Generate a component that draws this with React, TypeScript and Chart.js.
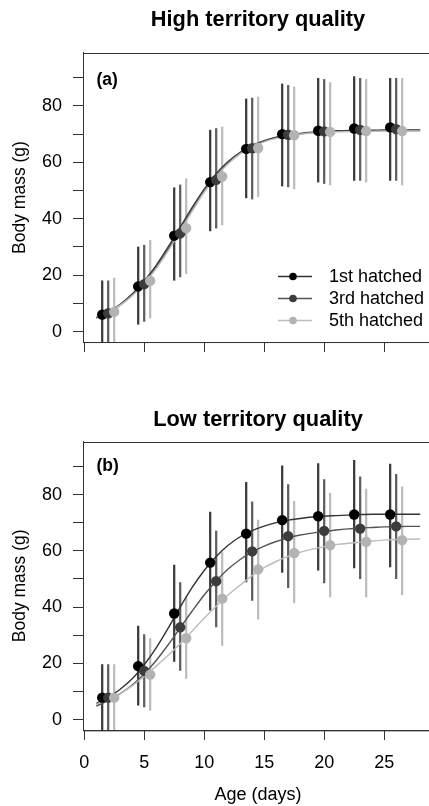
import React, { useEffect, useRef } from "react";
import { Chart, registerables } from "chart.js";

Chart.register(...registerables);

// ---------- data ----------
const SERIES_NAMES = ["1st hatched", "3rd hatched", "5th hatched"];

const AGE_1ST = [1.5, 4.5, 7.5, 10.5, 13.5, 16.5, 19.5, 22.5, 25.5];
const AGE_3RD = [2, 5, 8, 11, 14, 17, 20, 23, 26];
const AGE_5TH = [2.5, 5.5, 8.5, 11.5, 14.5, 17.5, 20.5, 23.5, 26.5];

const FIT_DAYS = [1, 2, 3, 4, 5, 6, 7, 8, 9, 10, 11, 12, 13, 14, 15, 16, 17, 18, 19, 20, 21, 22, 23, 24, 25, 26, 27, 28];

// High territory quality
const HIGH_MEAN_1ST = [6, 16, 34, 53, 64.8, 70, 71.2, 72, 72.4];
const HIGH_LO_1ST = [-6, 2.6, 18.2, 35.7, 47.4, 51.6, 53, 53.6, 53.6];
const HIGH_HI_1ST = [18, 30, 51, 71.4, 82.5, 87.8, 89.8, 90.4, 89.8];
const HIGH_MEAN_3RD = [6.5, 16.8, 34.8, 53.8, 65, 69.8, 71, 71.5, 71.8];
const HIGH_LO_3RD = [-5, 3.6, 19.4, 36.7, 47, 51.3, 52.5, 53.6, 53.6];
const HIGH_HI_3RD = [18, 30.6, 52, 72, 82.8, 87.3, 89.4, 89.8, 89.8];
const HIGH_MEAN_5TH = [7, 18, 36.7, 55, 65.1, 69.6, 70.8, 71.1, 71.1];
const HIGH_LO_5TH = [-5, 4.8, 20.5, 37.8, 47.8, 50.6, 52, 53, 52];
const HIGH_HI_5TH = [19, 32.4, 54.2, 72.6, 83.2, 86.8, 88.3, 89.4, 89.8];
const HIGH_FIT_1ST = [5, 7, 9.7, 13.3, 18, 23.5, 30, 37, 44, 50.5, 56, 60.3, 63.6, 66, 67.7, 68.9, 69.7, 70.3, 70.7, 71, 71.2, 71.3, 71.4, 71.4, 71.5, 71.5, 71.5, 71.5];
const HIGH_FIT_3RD = [4.8, 6.8, 9.4, 12.9, 17.4, 22.9, 29.3, 36.3, 43.3, 49.9, 55.5, 59.9, 63.3, 65.8, 67.5, 68.7, 69.5, 70.1, 70.5, 70.8, 71, 71.1, 71.2, 71.2, 71.3, 71.3, 71.3, 71.3];
const HIGH_FIT_5TH = [5.2, 7, 9.4, 12.7, 17, 22.3, 28.6, 35.6, 42.7, 49.4, 55, 59.5, 63, 65.5, 67.3, 68.5, 69.4, 70, 70.4, 70.6, 70.8, 70.9, 71, 71, 71.1, 71.1, 71.1, 71.1];

// Low territory quality
const LOW_MEAN_1ST = [7.8, 19, 37.7, 55.8, 66.1, 70.9, 72.3, 72.9, 72.9];
const LOW_LO_1ST = [-4.5, 5.1, 20.7, 38.9, 48.9, 52.3, 53.1, 53.9, 54.3];
const LOW_HI_1ST = [19.6, 33.2, 54.9, 73.8, 84.3, 90.2, 91, 92.2, 90.8];
const LOW_MEAN_3RD = [7.8, 17.3, 32.8, 49.2, 59.8, 65.2, 67.1, 67.9, 68.7];
const LOW_LO_3RD = [-4, 4.5, 17.5, 32.9, 42.4, 46.9, 48.6, 50.1, 50.1];
const LOW_HI_3RD = [19.6, 30.2, 48.7, 67, 77.4, 83.5, 85.3, 86.3, 87.2];
const LOW_MEAN_5TH = [7.8, 16, 28.9, 43, 53.4, 59.2, 62, 63.2, 63.8];
const LOW_LO_5TH = [-4, 3.3, 14.6, 26.4, 35.7, 41.5, 43.6, 43.6, 44.4];
const LOW_HI_5TH = [19.6, 28.8, 43.6, 59.6, 70.9, 77.6, 80.4, 81.9, 82.7];
const LOW_FIT_1ST = [5.7, 8, 10.8, 14.5, 19.5, 25.5, 32.5, 40, 47, 53, 58, 62, 65, 67.2, 68.8, 70, 70.9, 71.5, 72, 72.3, 72.5, 72.7, 72.9, 73, 73, 73, 73, 73];
const LOW_FIT_3RD = [4.8, 6.8, 9.2, 12.3, 16.2, 21, 26.6, 32.6, 38.6, 44.3, 49.3, 53.5, 56.9, 59.6, 61.7, 63.3, 64.6, 65.6, 66.3, 66.9, 67.4, 67.8, 68.1, 68.3, 68.5, 68.6, 68.7, 68.7];
const LOW_FIT_5TH = [5.5, 7.2, 9.3, 12, 15.3, 19, 22.9, 27, 31.5, 36, 40.3, 44.3, 47.8, 51.2, 54, 56.2, 58, 59.5, 60.6, 61.5, 62.2, 62.7, 63.1, 63.5, 63.8, 64, 64.1, 64.2];

const X_TICKS = [0, 5, 10, 15, 20, 25];
const Y_TICKS = [0, 10, 20, 30, 40, 50, 60, 70, 80, 90];
const Y_LABELED = [0, 20, 40, 60, 80];

// ---------- styles ----------
const FONT = "'Liberation Sans', Arial, Helvetica, sans-serif";
const DOT_COLORS = ["#000000", "#3c3c3c", "#b3b3b3"];
const BAR_COLORS = ["#3a3a3a", "#5e5e5e", "#bdbdbd"];
const CURVE_COLORS = ["#333333", "#555555", "#bcbcbc"];
const AXIS_COLOR = "#333333";

const X_MIN = -0.1;
const X_MAX = 29.07;
const Y_MIN = -3.7;
const Y_MAX = 98.8;

type Series = { ages: number[]; mean: number[]; lo: number[]; hi: number[]; fit: number[] };

const HIGH_SERIES: Series[] = [
  { ages: AGE_1ST, mean: HIGH_MEAN_1ST, lo: HIGH_LO_1ST, hi: HIGH_HI_1ST, fit: HIGH_FIT_1ST },
  { ages: AGE_3RD, mean: HIGH_MEAN_3RD, lo: HIGH_LO_3RD, hi: HIGH_HI_3RD, fit: HIGH_FIT_3RD },
  { ages: AGE_5TH, mean: HIGH_MEAN_5TH, lo: HIGH_LO_5TH, hi: HIGH_HI_5TH, fit: HIGH_FIT_5TH },
];
const LOW_SERIES: Series[] = [
  { ages: AGE_1ST, mean: LOW_MEAN_1ST, lo: LOW_LO_1ST, hi: LOW_HI_1ST, fit: LOW_FIT_1ST },
  { ages: AGE_3RD, mean: LOW_MEAN_3RD, lo: LOW_LO_3RD, hi: LOW_HI_3RD, fit: LOW_FIT_3RD },
  { ages: AGE_5TH, mean: LOW_MEAN_5TH, lo: LOW_LO_5TH, hi: LOW_HI_5TH, fit: LOW_FIT_5TH },
];

const panelDecor = {
  id: "panelDecor",
  afterDatasetsDraw(chart: any, _args: any, opts: any) {
    const { ctx, chartArea: a } = chart;
    ctx.save();
    // box
    ctx.strokeStyle = AXIS_COLOR;
    ctx.lineWidth = 1;
    ctx.strokeRect(Math.round(a.left) + 0.5, Math.round(a.top) + 0.5, a.right - a.left, a.bottom - a.top);
    // panel tag
    ctx.fillStyle = "#000";
    ctx.textBaseline = "middle";
    ctx.textAlign = "left";
    ctx.font = `bold 17.5px ${FONT}`;
    ctx.fillText(opts.tag, a.left + 13.5, a.top + opts.tagDy);
    // legend
    if (opts.legend) {
      const rows = [-65.5, -43.5, -21.5];
      SERIES_NAMES.forEach((name, k) => {
        const y = a.bottom + rows[k];
        ctx.strokeStyle = CURVE_COLORS[k];
        ctx.lineWidth = 1.5;
        ctx.beginPath();
        ctx.moveTo(a.left + 195, y);
        ctx.lineTo(a.left + 229, y);
        ctx.stroke();
        ctx.fillStyle = DOT_COLORS[k];
        ctx.beginPath();
        ctx.arc(a.left + 210, y, 3.8, 0, Math.PI * 2);
        ctx.fill();
        ctx.fillStyle = "#000";
        ctx.font = `18px ${FONT}`;
        ctx.fillText(name, a.left + 246, y + 0.5);
      });
    }
    ctx.restore();
  },
};

type PanelProps = {
  title: string;
  tag: string;
  series: Series[];
  bottom: boolean;
  width: number;
  height: number;
  titlePad: { top: number; bottom: number };
  xAxisHeight: number;
  tagDy: number;
  legend: boolean;
};

function Panel(p: PanelProps) {
  const ref = useRef<HTMLCanvasElement | null>(null);
  useEffect(() => {
    if (!ref.current) return;
    const datasets: any[] = [];
    p.series.forEach((s, k) => {
      datasets.push({
        type: "bar",
        data: s.ages.map((x, i) => ({ x, y: [s.lo[i], s.hi[i]] })),
        backgroundColor: BAR_COLORS[k],
        borderWidth: 0,
        barThickness: 1.6,
        grouped: false,
        order: 30 - k,
      });
    });
    p.series.forEach((s, k) => {
      datasets.push({
        type: "line",
        data: FIT_DAYS.map((x, i) => ({ x, y: s.fit[i] })),
        borderColor: CURVE_COLORS[k],
        borderWidth: 1.4,
        pointRadius: 0,
        fill: false,
        cubicInterpolationMode: "monotone",
        order: 20 - k,
      });
    });
    p.series.forEach((s, k) => {
      datasets.push({
        type: "line",
        data: s.ages.map((x, i) => ({ x, y: s.mean[i] })),
        showLine: false,
        pointRadius: 5.2,
        pointBackgroundColor: DOT_COLORS[k],
        pointBorderColor: DOT_COLORS[k],
        pointBorderWidth: 0,
        order: 10 - k,
      });
    });

    const chart = new Chart(ref.current, {
      type: "line",
      data: { datasets },
      plugins: [panelDecor],
      options: {
        animation: false,
        responsive: false,
        devicePixelRatio: 1,
        events: [],
        layout: { padding: { left: 0, right: 7, top: 0, bottom: 0 } },
        plugins: {
          legend: { display: false },
          tooltip: { enabled: false },
          title: {
            display: true,
            text: p.title,
            fullSize: false,
            color: "#000",
            font: { family: FONT, size: 21.8, weight: "bold", lineHeight: 1.2 },
            padding: p.titlePad,
          },
          panelDecor: { tag: p.tag, tagDy: p.tagDy, legend: p.legend },
        } as any,
        scales: {
          x: {
            type: "linear",
            min: X_MIN,
            max: X_MAX,
            offset: false,
            afterBuildTicks: (scale: any) => {
              scale.ticks = X_TICKS.map((v) => ({ value: v }));
            },
            afterFit: (scale: any) => {
              scale.height = p.xAxisHeight;
            },
            grid: { drawOnChartArea: false, drawTicks: true, tickLength: 10, color: AXIS_COLOR, offset: false },
            border: { display: true, color: AXIS_COLOR, width: 1 },
            ticks: {
              color: "#000",
              padding: 12,
              maxRotation: 0,
              autoSkip: false,
              font: { family: FONT, size: 18 },
              callback: (v: any) => (p.bottom ? String(v) : ""),
            },
            title: {
              display: p.bottom,
              text: "Age (days)",
              color: "#000",
              font: { family: FONT, size: 18 },
              padding: { top: 0, bottom: 0 },
            },
          },
          y: {
            type: "linear",
            min: Y_MIN,
            max: Y_MAX,
            afterBuildTicks: (scale: any) => {
              scale.ticks = Y_TICKS.map((v) => ({ value: v }));
            },
            afterFit: (scale: any) => {
              scale.width = 83;
            },
            grid: { drawOnChartArea: false, drawTicks: true, tickLength: 10, color: AXIS_COLOR },
            border: { display: true, color: AXIS_COLOR, width: 1 },
            ticks: {
              color: "#000",
              padding: 11,
              autoSkip: false,
              font: { family: FONT, size: 18 },
              callback: (v: any) => (Y_LABELED.includes(v) ? String(v) : ""),
            },
            title: {
              display: true,
              text: "Body mass (g)",
              color: "#000",
              font: { family: FONT, size: 17.5 },
              padding: { top: 10, bottom: 0 },
            },
          },
        },
      } as any,
    });
    return () => chart.destroy();
  }, []);
  return (
    <canvas
      ref={ref}
      width={p.width}
      height={p.height}
      style={{ display: "block", width: p.width, height: p.height }}
    />
  );
}

export default function App() {
  return (
    <div
      style={{
        position: "absolute",
        left: 0,
        top: 0,
        width: 429,
        height: 806,
        overflow: "hidden",
        background: "#fff",
      }}
    >
      <div style={{ position: "absolute", left: 0, top: 0 }}>
        <Panel
          title="High territory quality"
          tag="(a)"
          series={HIGH_SERIES}
          bottom={false}
          width={440}
          height={370}
          titlePad={{ top: 6.9, bottom: 19.9 }}
          xAxisHeight={28}
          tagDy={27}
          legend={true}
        />
      </div>
      <div style={{ position: "absolute", left: 0, top: 370 }}>
        <Panel
          title="Low territory quality"
          tag="(b)"
          series={LOW_SERIES}
          bottom={true}
          width={440}
          height={436}
          titlePad={{ top: 36.9, bottom: 8.6 }}
          xAxisHeight={76}
          tagDy={25}
          legend={false}
        />
      </div>
    </div>
  );
}
